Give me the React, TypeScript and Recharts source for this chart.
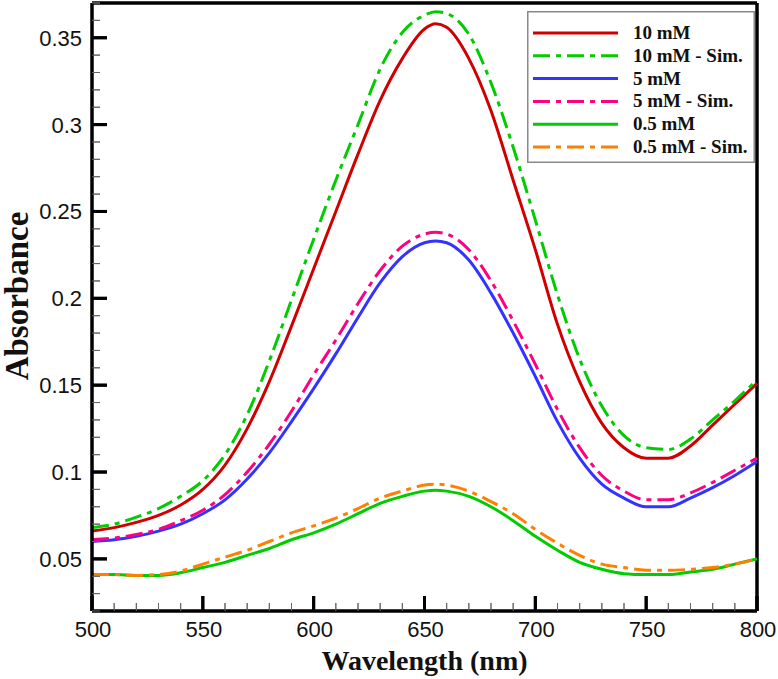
import React from "react";
import { LineChart, Line, XAxis, YAxis, ReferenceLine } from "recharts";

const wavelengths = [
  500, 510, 520, 530, 540, 550, 560, 570, 580, 590, 600, 610, 620, 630, 640, 650, 655,
  660, 670, 680, 690, 700, 710, 720, 730, 740, 750, 760, 770, 780, 790, 800,
];

const mM10 = [
  0.066, 0.068, 0.071, 0.075, 0.081, 0.09, 0.104, 0.125, 0.152, 0.184, 0.217, 0.25, 0.283,
  0.314, 0.338, 0.355, 0.358, 0.356, 0.338, 0.308, 0.268, 0.228, 0.185, 0.152, 0.128, 0.114,
  0.108, 0.108, 0.115, 0.127, 0.139, 0.151,
];
const mM10Sim = [
  0.068, 0.07, 0.074, 0.079, 0.086, 0.095, 0.11, 0.133, 0.164, 0.199, 0.234, 0.268, 0.3, 0.332,
  0.353, 0.363, 0.365, 0.364, 0.352, 0.324, 0.287, 0.245, 0.202, 0.165, 0.138, 0.121, 0.114,
  0.113, 0.119, 0.13, 0.141, 0.153,
];
const mM5 = [
  0.06, 0.061, 0.063, 0.066, 0.07, 0.076, 0.084, 0.096, 0.111, 0.129, 0.148, 0.168, 0.189,
  0.209, 0.224, 0.232, 0.233, 0.232, 0.222, 0.203, 0.18, 0.155, 0.129, 0.108, 0.093, 0.085,
  0.08, 0.08, 0.085, 0.091, 0.098, 0.106,
];
const mM5Sim = [
  0.061, 0.062, 0.064, 0.067, 0.072, 0.078, 0.087, 0.1, 0.116, 0.135, 0.156, 0.176, 0.197,
  0.216, 0.23, 0.237, 0.238, 0.237, 0.228, 0.21, 0.187, 0.162, 0.136, 0.114, 0.098, 0.089,
  0.084, 0.084, 0.088, 0.094, 0.101, 0.108,
];
const mM05 = [
  0.041, 0.041, 0.0405, 0.0405, 0.042, 0.045, 0.048, 0.052, 0.056, 0.061, 0.065, 0.07, 0.076,
  0.082, 0.086, 0.089, 0.0895, 0.089, 0.086, 0.08, 0.072, 0.063, 0.055, 0.048, 0.044, 0.0415,
  0.041, 0.041, 0.0425, 0.044, 0.047, 0.05,
];
const mM05Sim = [
  0.041, 0.041, 0.0405, 0.041, 0.043, 0.047, 0.051, 0.055, 0.06, 0.065, 0.069, 0.0735, 0.079,
  0.085, 0.089, 0.0925, 0.093, 0.0925, 0.089, 0.083, 0.076, 0.067, 0.059, 0.052, 0.047, 0.045,
  0.0435, 0.0435, 0.044, 0.045, 0.047, 0.05,
];

const majorX = [500, 550, 600, 650, 700, 750, 800];
const minorX = [
  510, 520, 530, 540, 560, 570, 580, 590, 610, 620, 630, 640, 660, 670, 680, 690, 710, 720,
  730, 740, 760, 770, 780, 790,
];
const majorY = [0.05, 0.1, 0.15, 0.2, 0.25, 0.3, 0.35];
const minorY = [
  0.02, 0.03, 0.04, 0.06, 0.07, 0.08, 0.09, 0.11, 0.12, 0.13, 0.14, 0.16, 0.17, 0.18, 0.19,
  0.21, 0.22, 0.23, 0.24, 0.26, 0.27, 0.28, 0.29, 0.31, 0.32, 0.33, 0.34, 0.36, 0.37,
];

const series = [
  { key: "s10", name: "10 mM", values: mM10, color: "#d00000", dash: undefined },
  { key: "s10sim", name: "10 mM - Sim.", values: mM10Sim, color: "#00cc00", dash: "17 6 5 6" },
  { key: "s5", name: "5 mM", values: mM5, color: "#3333ff", dash: undefined },
  { key: "s5sim", name: "5 mM - Sim.", values: mM5Sim, color: "#ff0080", dash: "17 6 5 6" },
  { key: "s05", name: "0.5 mM", values: mM05, color: "#00cc00", dash: undefined },
  { key: "s05sim", name: "0.5 mM - Sim.", values: mM05Sim, color: "#ff8000", dash: "17 6 5 6" },
];

const data = wavelengths.map((w, i) => {
  const row: Record<string, number> = { w };
  series.forEach((s) => (row[s.key] = s.values[i]));
  return row;
});

const X_MIN = 500;
const X_MAX = 800;
const Y_MIN = 0.02;
const Y_MAX = 0.37;
const PLOT_W = 665;
const PLOT_H = 608;
const xPerPx = (X_MAX - X_MIN) / PLOT_W;
const yPerPx = (Y_MAX - Y_MIN) / PLOT_H;
const MAJOR_LEN = 15;
const MINOR_LEN = 8;

const tickFont = "'Liberation Sans', Arial, sans-serif";
const serif = "'Liberation Serif', 'Times New Roman', serif";

const renderXLabel = (props: any) => {
  const { x, y, payload } = props;
  return (
    <text x={x + 1} y={y + 26} textAnchor="middle" fontSize={22} fontFamily={tickFont} fill="#111">
      {payload.value}
    </text>
  );
};

const renderYLabel = (props: any) => {
  const { x, y, payload } = props;
  return (
    <text x={x - 10} y={y + 8} textAnchor="end" fontSize={22} fontFamily={tickFont} fill="#111">
      {String(Number(payload.value.toFixed(2)))}
    </text>
  );
};

const xTickMarks = [
  ...majorX.map((v) => ({ v, len: MAJOR_LEN, major: true })),
  ...minorX.map((v) => ({ v, len: MINOR_LEN, major: false })),
];
const yTickMarks = [
  ...majorY.map((v) => ({ v, len: MAJOR_LEN, major: true })),
  ...minorY.map((v) => ({ v, len: MINOR_LEN, major: false })),
];

// axis title plus the inward tick marks, placed inside the axis viewBox
const XTitle = (props: any) => {
  const { viewBox } = props;
  const pos = (v: number) => viewBox.x + ((v - X_MIN) / (X_MAX - X_MIN)) * viewBox.width;
  return (
    <g>
      {xTickMarks.map((t) => (
        <line
          key={t.v}
          x1={pos(t.v)}
          x2={pos(t.v)}
          y1={viewBox.y}
          y2={viewBox.y - t.len}
          stroke={t.major ? "#000" : "#666"}
          strokeWidth={t.major ? 3 : 1}
        />
      ))}
      <text
        x={viewBox.x + viewBox.width / 2}
        y={viewBox.y + 59}
        textAnchor="middle"
        fontSize={28}
        fontWeight="bold"
        fontFamily={serif}
        fill="#111"
      >
        Wavelength (nm)
      </text>
    </g>
  );
};

const YTitle = (props: any) => {
  const { viewBox } = props;
  const right = viewBox.x + viewBox.width;
  const pos = (v: number) => viewBox.y + ((Y_MAX - v) / (Y_MAX - Y_MIN)) * viewBox.height;
  const cx = viewBox.x + 28;
  const cy = viewBox.y + 293;
  return (
    <g>
      {yTickMarks.map((t) => (
        <line
          key={t.v}
          x1={right}
          x2={right + t.len}
          y1={pos(t.v)}
          y2={pos(t.v)}
          stroke={t.major ? "#000" : "#666"}
          strokeWidth={t.major ? 3 : 1}
        />
      ))}
      <text
        x={cx}
        y={cy}
        transform={`rotate(-90 ${cx} ${cy})`}
        textAnchor="middle"
        fontSize={33}
        fontWeight="bold"
        fontFamily={serif}
        fill="#111"
      >
        Absorbance
      </text>
    </g>
  );
};

function LegendBox() {
  return (
    <svg width={228} height={152} style={{ position: "absolute", left: 527, top: 11 }}>
      <rect x={0.75} y={0.75} width={226.5} height={150.5} fill="#fff" stroke="#888" strokeWidth={1.5} />
      {series.map((s, i) => {
        const cy = 22 + i * 22.8;
        return (
          <g key={s.key}>
            <line x1={6} x2={91} y1={cy} y2={cy} stroke={s.color} strokeWidth={3} strokeDasharray={s.dash} />
            <text x={106} y={cy + 6} fontSize={19} fontWeight="bold" fontFamily={serif} fill="#111">
              {s.name}
            </text>
          </g>
        );
      })}
    </svg>
  );
}

export default function App() {
  return (
    <div style={{ position: "absolute", left: 0, top: 0, width: 778, height: 679 }}>
      <LineChart width={778} height={679} data={data} margin={{ top: 3, right: 21, left: 0, bottom: 0 }}>
        <XAxis
          dataKey="w"
          type="number"
          domain={[X_MIN, X_MAX]}
          ticks={majorX}
          interval={0}
          height={68}
          tickSize={0}
          tickMargin={0}
          tick={renderXLabel}
          tickLine={false}
          axisLine={{ stroke: "#000", strokeWidth: 3.5 }}
          label={<XTitle />}
        />
        <YAxis
          type="number"
          domain={[Y_MIN, Y_MAX]}
          ticks={majorY}
          interval={0}
          width={92}
          tickSize={0}
          tickMargin={0}
          tick={renderYLabel}
          tickLine={false}
          axisLine={{ stroke: "#000", strokeWidth: 3.5 }}
          label={<YTitle />}
        />
        <ReferenceLine y={Y_MAX} stroke="#000" strokeWidth={3.5} />
        <ReferenceLine x={X_MAX} stroke="#000" strokeWidth={3.5} />
        {xTickMarks.map((t) => (
          <ReferenceLine
            key={`xt-${t.v}`}
            segment={[
              { x: t.v, y: Y_MIN },
              { x: t.v, y: Y_MIN + t.len * yPerPx },
            ]}
            stroke={t.major ? "#000" : "#666"}
            strokeWidth={t.major ? 3 : 1}
          />
        ))}
        {yTickMarks.map((t) => (
          <ReferenceLine
            key={`yt-${t.v}`}
            segment={[
              { x: X_MIN, y: t.v },
              { x: X_MIN + t.len * xPerPx, y: t.v },
            ]}
            stroke={t.major ? "#000" : "#666"}
            strokeWidth={t.major ? 3 : 1}
          />
        ))}
        {series.map((s) => (
          <Line
            key={s.key}
            dataKey={s.key}
            name={s.name}
            type="monotone"
            stroke={s.color}
            strokeWidth={3}
            strokeDasharray={s.dash}
            dot={false}
            activeDot={false}
            isAnimationActive={false}
          />
        ))}
      </LineChart>
      <LegendBox />
    </div>
  );
}
